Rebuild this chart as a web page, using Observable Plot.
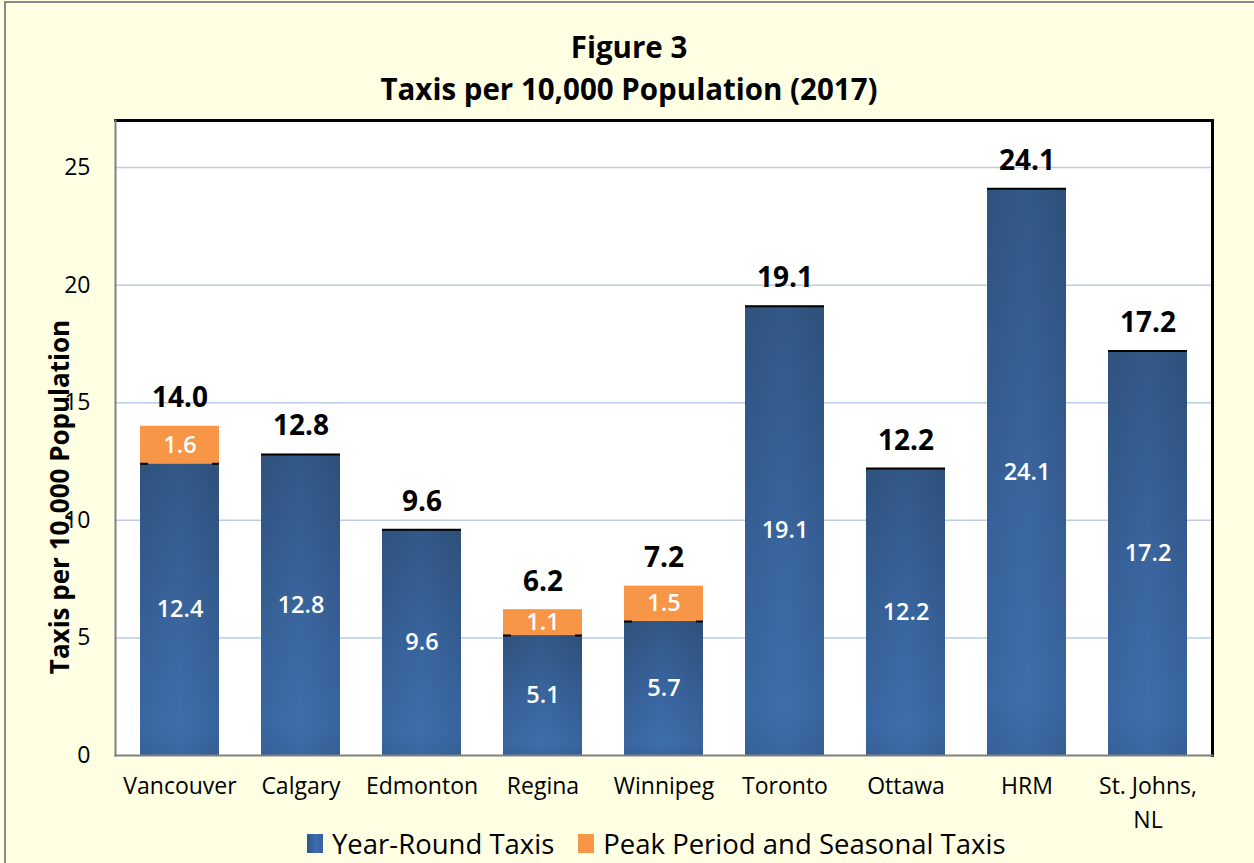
<!DOCTYPE html>
<html><head><meta charset="utf-8">
<script src="https://cdn.jsdelivr.net/npm/d3@7"></script>
<script src="https://cdn.jsdelivr.net/npm/@observablehq/plot@0.6"></script>
<style>
body{margin:0;background:#fff;}
#wrap{position:relative;width:1254px;height:863px;background:#FFFFE3;font-family:"Open Sans",sans-serif;overflow:hidden;}
#border{position:absolute;left:4px;top:1px;width:1300px;height:900px;border-top:2px solid #8a8a8a;border-left:2px solid #8a8a8a;}
#title{position:absolute;top:26px;left:2px;width:1254px;text-align:center;font-weight:700;font-size:29.5px;line-height:42px;color:#000;}
#chart{position:absolute;top:111px;left:0;}
#legend{position:absolute;top:825px;left:307px;height:36px;display:flex;align-items:center;font-size:27.5px;color:#000;white-space:nowrap;}
.sw{display:inline-block;width:16px;height:19px;margin-right:9px;}
.lab{margin-right:24px;}
</style>
</head><body>
<div id="wrap">
<div id="border"></div>
<div id="title">Figure 3<br>Taxis per 10,000 Population (2017)</div>
<div id="chart"></div>
<div id="legend"></div>
</div>
<script>
const cities = ["Vancouver","Calgary","Edmonton","Regina","Winnipeg","Toronto","Ottawa","HRM","St. Johns, NL"];
const yearRound = [12.4,12.8,9.6,5.1,5.7,19.1,12.2,24.1,17.2];
const peak = [1.6,0,0,1.1,1.5,0,0,0,0];
const totals = [14.0,12.8,9.6,6.2,7.2,19.1,12.2,24.1,17.2];
const yTicks = [0,5,10,15,20,25];
const seriesNames = ["Year-Round Taxis","Peak Period and Seasonal Taxis"];
const seriesColors = ["linear-gradient(90deg,#2f5688,#3d6dab 55%,#37629c)","#F79646"];
const yLabel = "Taxis per 10,000 Population";

const data = cities.map((c,i)=>({city:c, yr:yearRound[i], pk:peak[i], total:totals[i]}));

const plot = Plot.plot({
  width:1254, height:722, marginTop:9, marginBottom:78, marginLeft:115, marginRight:42,
  style:{background:"transparent", fontFamily:"Open Sans, sans-serif", overflow:"visible", color:"#000"},
  x:{domain:cities, paddingInner:0.344, paddingOuter:0.172, label:null},
  y:{domain:[0,27], label:null},
  marks:[
    Plot.frame({fill:"white", stroke:null}),
    Plot.gridY(yTicks.filter(d=>d>0), {stroke:"#B9CDE5", strokeOpacity:1, strokeWidth:1.5}),
    Plot.barY(data, {x:"city", y1:0, y2:"yr", fill:"url(#blueGrad)"}),
    Plot.barY(data, {x:"city", y1:0, y2:"yr", fill:"url(#edgeGrad)"}),
    Plot.barY(data.filter(d=>d.pk>0), {x:"city", y1:"yr", y2:"total", fill:"#F79646"}),
    Plot.tickY(data.filter(d=>d.pk===0), {x:"city", y:"yr", stroke:"#000", strokeWidth:2}),
    Plot.tickY(data.filter(d=>d.pk>0), {x:"city", y:"yr", stroke:"#000", strokeWidth:2, strokeDasharray:"8,64,8"}),
    Plot.text(data, {x:"city", y:d=>d.yr/2, text:d=>d.yr.toFixed(1), fill:"white", fontSize:23.5, fontWeight:600}),
    Plot.text(data.filter(d=>d.pk>0), {x:"city", y:d=>d.yr+d.pk/2, text:d=>d.pk.toFixed(1), fill:"white", fontSize:23.5, fontWeight:600}),
    Plot.text(data, {x:"city", y:"total", text:d=>d.total.toFixed(1), fill:"black", fontSize:28, fontWeight:700, dy:-28}),
    Plot.frame({anchor:"top", stroke:"#000", strokeWidth:3}),
    Plot.frame({anchor:"right", stroke:"#000", strokeWidth:3}),
    Plot.frame({anchor:"left", stroke:"#808080", strokeWidth:2}),
    Plot.frame({anchor:"bottom", stroke:"#808080", strokeWidth:2}),
    Plot.axisY(yTicks, {tickSize:0, tickPadding:25, fontSize:23, label:null}),
    Plot.axisX({tickSize:0, tickPadding:14, fontSize:23, label:null, tickFormat:d=>d.replace(", ",",\n"), lineHeight:1.48}),
    Plot.text([yLabel], {frameAnchor:"left", text:d=>d, textAnchor:"middle", rotate:-90, dx:-55, dy:59, fontSize:26, fontWeight:700, fill:"#000"})
  ]
});

d3.select(plot).insert("defs", ":first-child").html(
  '<linearGradient id="blueGrad" x1="0" y1="0" x2="0" y2="1">' +
  '<stop offset="0" stop-color="#325886"/>' +
  '<stop offset="0.55" stop-color="#3A66A0"/>' +
  '<stop offset="0.9" stop-color="#3E6EAC"/>' +
  '<stop offset="1" stop-color="#3A67A2"/>' +
  '</linearGradient>' +
  '<linearGradient id="edgeGrad" x1="0" y1="0" x2="1" y2="0">' +
  '<stop offset="0" stop-color="#000" stop-opacity="0.07"/>' +
  '<stop offset="0.5" stop-color="#000" stop-opacity="0"/>' +
  '<stop offset="1" stop-color="#000" stop-opacity="0.09"/>' +
  '</linearGradient>'
);
document.getElementById("chart").appendChild(plot);

const leg = document.getElementById("legend");
seriesNames.forEach((n,i)=>{
  const s = document.createElement("span"); s.className="sw"; s.style.background = seriesColors[i];
  const t = document.createElement("span"); t.className="lab"; t.textContent = n;
  leg.appendChild(s); leg.appendChild(t);
});
</script>
</body></html>
